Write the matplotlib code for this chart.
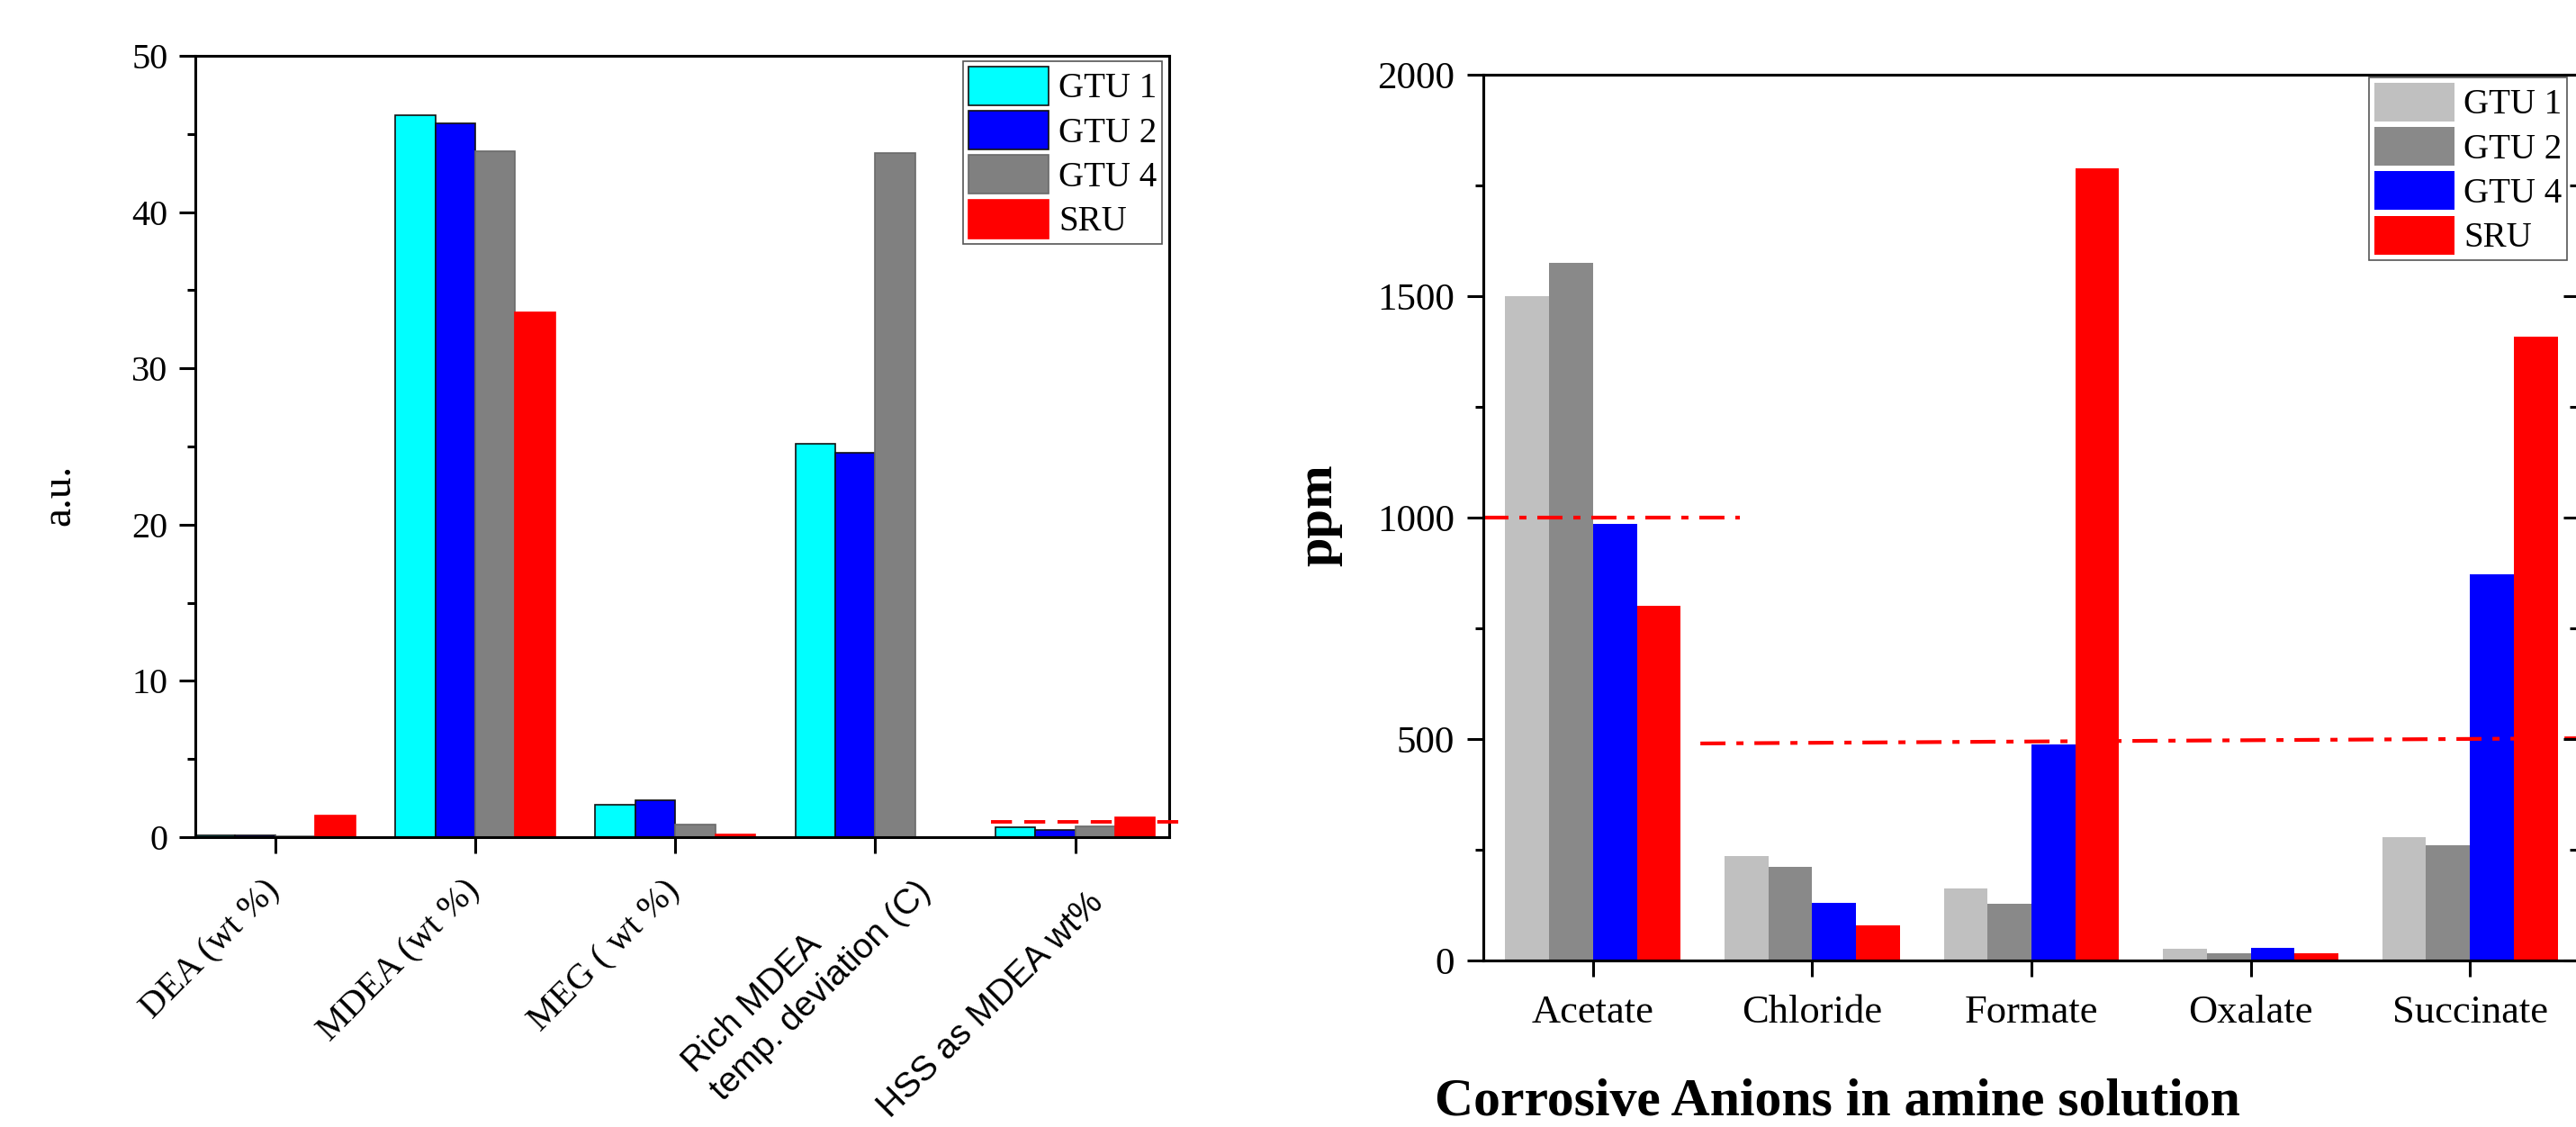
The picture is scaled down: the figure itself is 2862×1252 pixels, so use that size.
import matplotlib
matplotlib.use("Agg")
import matplotlib.pyplot as plt
from matplotlib.ticker import MultipleLocator
from matplotlib.transforms import ScaledTranslation
import numpy as np

plt.rcParams['font.family'] = ['Liberation Serif', 'DejaVu Serif']

# left panel: amine quality parameters
params = ["DEA (wt %)", "MDEA (wt %)", "MEG ( wt %)",
          "Rich MDEA\ntemp. deviation (C)", "HSS as MDEA wt%"]
param_fonts = ["Liberation Serif", "Liberation Serif", "Liberation Serif",
               "Liberation Sans", "Liberation Sans"]
units_left = ["GTU 1", "GTU 2", "GTU 4", "SRU"]
gtu1_a = [0.12, 46.2, 2.1, 25.2, 0.62]
gtu2_a = [0.10, 45.7, 2.35, 24.6, 0.48]
gtu4_a = [0.05, 43.9, 0.8, 43.8, 0.72]
sru_a = [1.4, 33.6, 0.15, 0.0, 1.28]
hss_limit_x = [3.58, 4.56]
hss_limit_y = [1.0, 1.0]

# right panel: corrosive anions (ppm)
anions = ["Acetate", "Chloride", "Formate", "Oxalate", "Succinate"]
units_right = ["GTU 1", "GTU 2", "GTU 4", "SRU"]
gtu1_b = [1500, 235, 163, 26, 279]
gtu2_b = [1575, 211, 128, 16, 260]
gtu4_b = [985, 130, 487, 28, 872]
sru_b = [800, 80, 1789, 16, 1409]
lim1_x = [-0.5, 0.67]
lim1_y = [1000, 1000]
lim2_x = [0.49, 4.6]
lim2_y = [490, 502]

W, H = 2862, 1252
fig = plt.figure(figsize=(W / 100, H / 100), dpi=100)

def ax_rect(x0, y0, x1, y1):
    return [x0 / W, 1 - y1 / H, (x1 - x0) / W, (y1 - y0) / H]

spine_w = 2.2
offsets = [-0.3, -0.1, 0.1, 0.3]
bw = 0.2

# ---------------- left ----------------
ax1 = fig.add_axes(ax_rect(217, 62, 1299, 930))
x = np.arange(len(params))
left_series = [gtu1_a, gtu2_a, gtu4_a, sru_a]
left_colors = ['#00FFFF', '#0000FF', '#808080', '#FF0000']
left_edges = ['#111111', '#111111', '#6a6a6a', '#FF0000']
for vals, off, c, e, lab in zip(left_series, offsets, left_colors, left_edges, units_left):
    ax1.bar(x + off, vals, bw, color=c, edgecolor=e, linewidth=1.2, label=lab)
ax1.plot(hss_limit_x, hss_limit_y, color='#FF0000', lw=2.8,
         linestyle=(0, (6, 3.5)), clip_on=False, zorder=5)
ax1.set_xlim(-0.4, 4.47)
ax1.set_ylim(0, 50)
ax1.yaxis.set_major_locator(MultipleLocator(10))
ax1.yaxis.set_minor_locator(MultipleLocator(5))
ax1.tick_params(axis='x', which='major', direction='out', length=13, width=spine_w, pad=26)
ax1.tick_params(axis='y', which='major', direction='out', length=13, width=spine_w,
                labelsize=29, pad=9)
ax1.tick_params(axis='y', which='minor', direction='out', length=6.5, width=spine_w)
ax1.set_xticks(x)
ax1.set_xticklabels(params, rotation=45, ha='right', va='center',
                    rotation_mode='anchor', fontsize=29)
# small nudges (inches) for the two sans-serif labels
label_shift = {3: (0.40, 0.15), 4: (0.26, -0.13)}
for i, (lbl, fam) in enumerate(zip(ax1.get_xticklabels(), param_fonts)):
    lbl.set_fontfamily(fam)
    lbl.set_multialignment('left')
    if fam == "Liberation Sans":
        lbl.set_fontsize(28)
        lbl.set_linespacing(1.3)
        dx, dy = label_shift[i]
        lbl.set_transform(lbl.get_transform() + ScaledTranslation(dx, dy, fig.dpi_scale_trans))
for s in ax1.spines.values():
    s.set_linewidth(spine_w)
ax1.set_ylabel("a.u.", fontsize=34)
ax1.yaxis.set_label_coords(-0.12, 0.438)
leg1 = ax1.legend(loc='upper right', bbox_to_anchor=(0.9926, 0.9931), borderaxespad=0,
                  fontsize=28, handlelength=2.3, handleheight=1.32, labelspacing=0.15,
                  handletextpad=0.28, borderpad=0.15, fancybox=False, framealpha=1)
leg1.get_frame().set_edgecolor('#555555')
leg1.get_frame().set_linewidth(1.2)

# ---------------- right ----------------
ax2 = fig.add_axes(ax_rect(1648, 83, 2866, 1067))
x2 = np.arange(len(anions))
right_series = [gtu1_b, gtu2_b, gtu4_b, sru_b]
right_colors = ['#C0C0C0', '#898989', '#0000FF', '#FF0000']
for vals, off, c, lab in zip(right_series, offsets, right_colors, units_right):
    ax2.bar(x2 + off, vals, bw, color=c, linewidth=0, label=lab)
dashdot = (0, (6.7, 2.9, 1.9, 2.9))
ax2.plot(lim1_x, lim1_y, color='#FF0000', lw=3, linestyle=dashdot, zorder=5)
ax2.plot(lim2_x, lim2_y, color='#FF0000', lw=3, linestyle=dashdot, zorder=5)
ax2.set_xlim(-0.5, 4.5)
ax2.set_ylim(0, 2000)
ax2.yaxis.set_major_locator(MultipleLocator(500))
ax2.yaxis.set_minor_locator(MultipleLocator(250))
ax2.set_xticks(x2)
ax2.set_xticklabels(anions, fontsize=32)
ax2.tick_params(axis='x', which='major', direction='out', length=13, width=spine_w, pad=14)
ax2.tick_params(axis='y', which='major', direction='out', length=13, width=spine_w,
                labelsize=31, pad=10)
ax2.tick_params(axis='y', which='minor', direction='out', length=6.5, width=spine_w)
for s in ax2.spines.values():
    s.set_linewidth(spine_w)
ax2r = ax2.twinx()
ax2r.set_ylim(0, 2000)
ax2r.yaxis.set_major_locator(MultipleLocator(500))
ax2r.yaxis.set_minor_locator(MultipleLocator(250))
ax2r.tick_params(axis='y', which='major', direction='in', length=13, width=spine_w, labelright=False)
ax2r.tick_params(axis='y', which='minor', direction='in', length=8, width=spine_w)
for s in ax2r.spines.values():
    s.set_linewidth(spine_w)
ax2.set_ylabel("ppm", fontsize=42, fontweight='bold')
ax2.yaxis.set_label_coords(-0.129, 0.503)
ax2.set_xlabel("Corrosive Anions in amine solution", fontsize=43, fontweight='bold')
ax2.xaxis.set_label_coords(0.323, -0.133)
leg2 = ax2.legend(loc='upper right', bbox_to_anchor=(0.9885, 0.997), borderaxespad=0,
                  fontsize=28, handlelength=2.3, handleheight=1.32, labelspacing=0.15,
                  handletextpad=0.25, borderpad=0.15, fancybox=False, framealpha=1)
leg2.get_frame().set_edgecolor('#555555')
leg2.get_frame().set_linewidth(1.2)
leg2.set_zorder(10)

fig.savefig("out.png", dpi=100)
